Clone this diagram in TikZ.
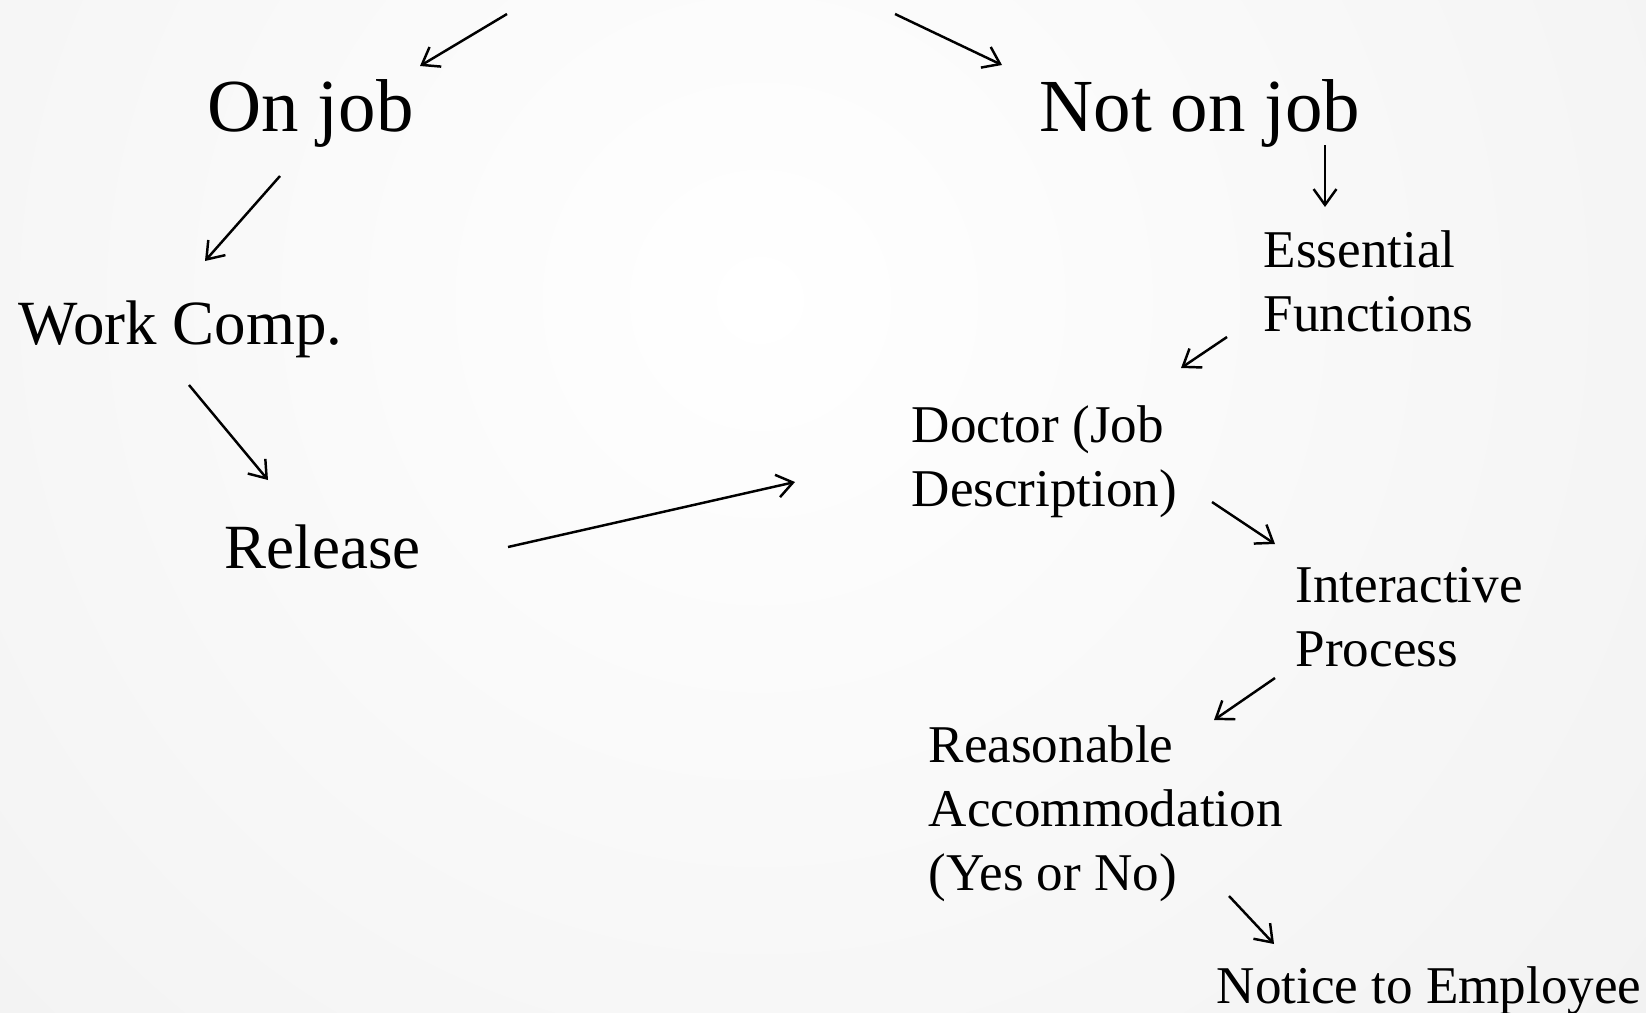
\documentclass[tikz,border=0pt]{standalone}
\usepackage{fontspec}
\setmainfont{Liberation Serif}
\usetikzlibrary{arrows.meta}

\tikzstyle{big}=[anchor=base west, inner sep=0pt, font=\fontsize{21.3}{25.6}\selectfont]
\tikzstyle{mid}=[anchor=base west, inner sep=0pt, font=\fontsize{17.9}{21.5}\selectfont]
\tikzstyle{stage}=[anchor=base west, inner sep=0pt, align=left, font=\fontsize{15.1}{18.2}\selectfont]
\tikzstyle{link}=[-{Straight Barb[length=4.5pt,width=6.5pt]}, line width=0.7pt]

\begin{document}
\begin{tikzpicture}[x=0.01cm, y=-0.01cm]
            \useasboundingbox (0,0) rectangle (1646,1012);
            \begin{scope}
                \clip (0,0) rectangle (1646,1012);
                \shade[inner color=white, outer color=black!9] (760,300) circle (20cm);
            \end{scope}
            % multi-line nodes sit on the baseline of their last line
            \node[big] at (207,131) (onjob) {On job};
            \node[big] at (1039,131) (notonjob) {Not on job};
            \node[mid] at (18,344) (workcomp) {Work Comp.};
            \node[mid] at (224,568) (release) {Release};
            \node[stage] at (1263,331) (essential) {Essential\\Functions};
            \node[stage] at (911,506) (doctor) {Doctor (Job\\Description)};
            \node[stage] at (1295,666) (interactive) {Interactive\\Process};
            \node[stage] at (928,890) (reasonable) {Reasonable\\Accommodation\\(Yes or No)};
            \node[stage] at (1216,1003) (notice) {Notice to Employee};
            % arrows coming in from the top edge
            \coordinate (topl) at (507,14);
            \coordinate (topr) at (895,14);
            \draw[link] (topl) -- ([shift={(213,-65)}]onjob.base west);
            \draw[link] (topr) -- ([shift={(-37,-66)}]notonjob.base west);
            % left branch
            \draw[link] ([shift={(73,45)}]onjob.base west) -- ([shift={(187,-83)}]workcomp.base west);
            \draw[link] ([shift={(171,41)}]workcomp.base west) -- ([shift={(44,-88)}]release.base west);
            \draw[link] ([shift={(284,-21)}]release.base west) -- ([shift={(-116,-24)}]doctor.base west);
            % right branch
            \draw[link] ([shift={(286,14)}]notonjob.base west) -- ([shift={(62,-124)}]essential.base west);
            \draw[link] ([shift={(-36,6)}]essential.base west) -- ([shift={(270,-138)}]doctor.base west);
            \draw[link] ([shift={(301,-4)}]doctor.base west) -- ([shift={(-20,-122)}]interactive.base west);
            \draw[link] ([shift={(-20,12)}]interactive.base west) -- ([shift={(286,-170)}]reasonable.base west);
            \draw[link] ([shift={(301,6)}]reasonable.base west) -- ([shift={(58,-59)}]notice.base west);
\end{tikzpicture}
\end{document}
